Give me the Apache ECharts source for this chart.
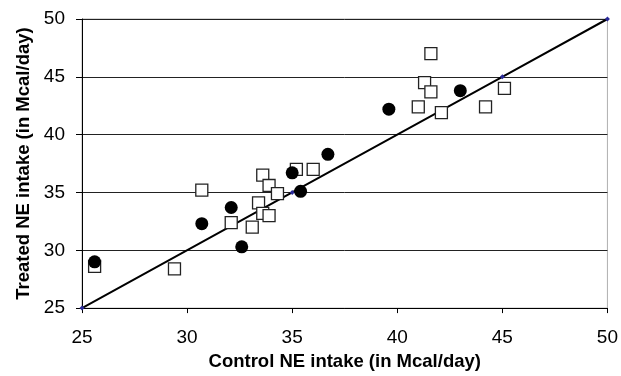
<!DOCTYPE html>
<html>
<head>
<meta charset="utf-8">
<script src="https://cdn.jsdelivr.net/npm/echarts@6/dist/echarts.min.js"></script>
<style>
  html, body { margin: 0; padding: 0; background: #fff; }
  #chart { width: 621px; height: 376px; }
</style>
</head>
<body>
<div id="chart"></div>
<script>
// open squares
const squarePoints = [
  [25.6, 28.6], [29.4, 28.4], [30.7, 35.2], [32.1, 32.4], [33.1, 32.0],
  [33.4, 34.1], [33.6, 33.2], [33.9, 33.0], [33.6, 36.5], [33.9, 35.6],
  [34.3, 34.9], [35.2, 37.0], [36.0, 37.0], [41.6, 47.0], [41.3, 44.5],
  [41.6, 43.7], [45.1, 44.0], [41.0, 42.4], [42.1, 41.9], [44.2, 42.4],
]
// filled circles
const circlePoints = [
  [25.6, 29.0], [30.7, 32.3], [32.1, 33.7], [32.6, 30.3], [35.0, 36.7],
  [35.4, 35.1], [36.7, 38.3], [39.6, 42.2], [43.0, 43.8],
]
// line of equality
const identityLine = [[25, 25], [35, 35], [45, 45], [50, 50]]

const xName = 'Control NE intake (in Mcal/day)'
const yName = 'Treated NE intake (in Mcal/day)'

const chart = echarts.init(document.getElementById('chart'), null, { renderer: 'canvas' })

const family = 'Liberation Sans, Arial, sans-serif'
const labelFont = { color: '#000', fontSize: 19, fontFamily: family }
const nameFont = { color: '#000', fontSize: 18.5, fontWeight: 'bold', fontFamily: family }

chart.setOption({
  animation: false,
  grid: {
    left: 82, right: 13, top: 19, bottom: 67,
    show: true, borderColor: '#b0b0b0', borderWidth: 1,
  },
  xAxis: {
    type: 'value', min: 25, max: 50, interval: 5,
    name: xName, nameLocation: 'middle', nameGap: 38,
    nameTextStyle: nameFont,
    axisLine: { lineStyle: { color: '#000', width: 1 } },
    axisTick: { show: true, inside: false, length: 5, lineStyle: { color: '#000' } },
    axisLabel: Object.assign({ margin: 20 }, labelFont),
    splitLine: { show: false },
  },
  yAxis: {
    type: 'value', min: 25, max: 50, interval: 5,
    name: yName, nameLocation: 'middle', nameGap: 49,
    nameTextStyle: nameFont,
    axisLine: { show: true, lineStyle: { color: '#000', width: 1 } },
    axisTick: { show: true, inside: false, length: 6, lineStyle: { color: '#000' } },
    axisLabel: Object.assign({ margin: 17 }, labelFont),
    splitLine: { show: true, lineStyle: { color: '#222', width: 1 } },
  },
  series: [
    {
      type: 'line',
      data: identityLine,
      symbol: 'diamond',
      symbolSize: 5,
      showSymbol: true,
      lineStyle: { color: '#000', width: 2 },
      itemStyle: { color: '#2a2a9a', borderWidth: 0 },
      z: 2,
    },
    {
      type: 'scatter',
      data: squarePoints,
      symbol: 'rect',
      symbolSize: 12,
      itemStyle: { color: '#fff', borderColor: '#222', borderWidth: 1.3, opacity: 1 },
      z: 3,
    },
    {
      type: 'scatter',
      data: circlePoints,
      symbol: 'circle',
      symbolSize: 13,
      itemStyle: { color: '#000', opacity: 1 },
      z: 4,
    },
  ],
})
</script>
</body>
</html>
